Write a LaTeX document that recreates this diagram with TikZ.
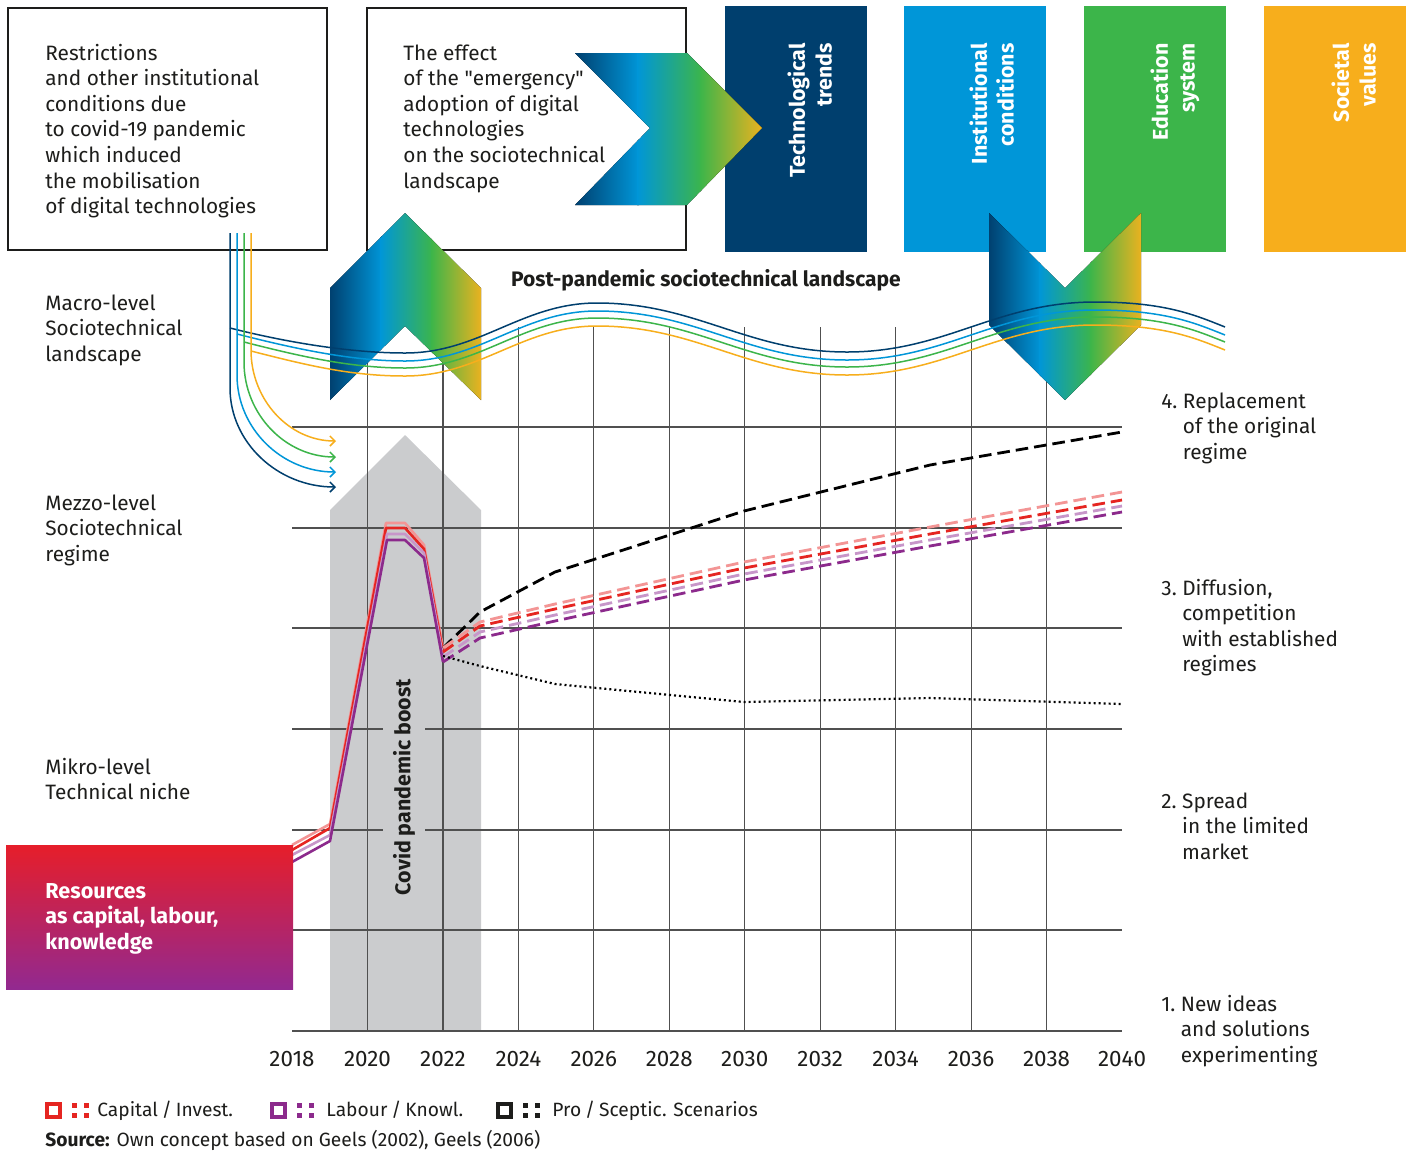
\documentclass[tikz,border=0pt]{standalone}
\usepackage{fontspec}
\setmainfont{Fira Sans}
\newfontfamily\plainq{Fira Sans}[Ligatures=TeXOff]
\usetikzlibrary{arrows.meta}
\definecolor{navyc}{HTML}{003F6E}
\definecolor{bluec}{HTML}{0096D8}
\definecolor{greenc}{HTML}{3CB54A}
\definecolor{orangec}{HTML}{F7AE1C}
\definecolor{gorange}{HTML}{EDB21F}
\definecolor{txt}{HTML}{1D1D1B}
\definecolor{boostgray}{HTML}{CBCCCE}
\definecolor{gridc}{HTML}{505050}
\definecolor{redc}{HTML}{E52521}
\definecolor{lredc}{HTML}{F39595}
\definecolor{purc}{HTML}{8C2A8C}
\definecolor{lpurc}{HTML}{C796C9}
\definecolor{restop}{HTML}{E61E2A}
\definecolor{resbot}{HTML}{922990}
\tikzset{
  txtnode/.style={anchor=base west, align=left, inner sep=0pt, text=txt},
  coltext/.style={rotate=90, anchor=north east, align=right, inner sep=0pt, text=white, font=\fontsize{10.7}{13.4}\selectfont\bfseries},
  infobox/.style={draw=txt, line width=1.2pt, fill=white, minimum width=159.5pt, minimum height=121pt, inner sep=0pt},
  legtext/.style={txtnode, font=\fontsize{9.6}{12}\selectfont},
  wavel/.style={line width=0.75pt},
  gridl/.style={draw=gridc, line width=0.6pt},
  solidl/.style={line width=1.3pt, line join=round},
  dashl/.style={line width=1.4pt, dash pattern=on 6.3pt off 3pt},
  dotl/.style={line width=1.1pt, dash pattern=on 1pt off 1.5pt},
}
\newcommand\legicon[2]{%
  \draw[#2, line width=2pt] (#1+2,1104) rectangle (#1+15,1117);
  \foreach \dx in {27,39} \foreach \dy in {1103,1113}
    \fill[#2] (#1+\dx,\dy) rectangle +(4.5,4.5);
}
\newcommand\myslash{\hspace{2pt}/\hspace{2pt}}
\begin{document}
\begin{tikzpicture}[x=0.5pt, y=-0.5pt, font=\fontsize{10.4}{12.8}\selectfont]
\useasboundingbox (0,0) rectangle (1413,1153);
\fill[white] (0,0) rectangle (1413,1153);

% columns
\fill[navyc] (725,6) rectangle (867,252);
\fill[bluec] (904,6) rectangle (1046,252);
\fill[greenc] (1084,6) rectangle (1226,252);
\fill[orangec] (1264,6) rectangle (1406,252);
\node[coltext] (ctech) at (787,43) {Technological\\trends};
\node[coltext] (cinst) at (969,43) {Institutional\\conditions};
\node[coltext] (cedu) at (1150,43) {Education\\system};
\node[coltext] (csoc) at (1331,43) {Societal\\values};

% info boxes
\node[infobox] (box1) at (167.5,129) {};
\node[infobox] (box2) at (526.5,129) {};
\node[txtnode] (t1) at (45,213.6) {Restrictions\\and other institutional\\conditions due\\to covid-19 pandemic\\which induced\\the mobilisation\\of digital technologies};
\node[txtnode] (t2) at (403,188) {The effect\\of the {\plainq"}emergency{\plainq"}\\adoption of digital\\technologies\\on the sociotechnical\\landscape};

% boost arrow
\fill[boostgray] (330,1031) -- (330,510) -- (405,435) -- (481,510) -- (481,1031) -- cycle;

% grid
\foreach \i in {1,...,10} \draw[gridl] ({292+75.4545*\i},327) -- ({292+75.4545*\i},1031);
\foreach \y in {427,528,628,729,830,930,1031} \draw[gridl] (292,\y) -- (1122,\y);
\foreach \i in {0,...,11} {
  \pgfmathtruncatemacro\yr{2018+2*\i}
  \node[anchor=base, inner sep=0pt, text=txt, font=\fontsize{11.2}{13}\selectfont] (yr\yr) at ({292+75.4545*\i},1066) {\yr};
}

% chevrons
\begin{scope}
\clip (575,53) -- (687,53) -- (762,128) -- (687,205) -- (575,205) -- (650,128) -- cycle;
\fill[left color=navyc,right color=bluec] (574,50) rectangle (639,210);
\fill[left color=bluec,right color=greenc] (637,50) rectangle (702,210);
\fill[left color=greenc,right color=gorange] (700,50) rectangle (763,210);
\end{scope}
\begin{scope}
\clip (330,400) -- (330,288) -- (405,213) -- (481,288) -- (481,400) -- (405,326) -- cycle;
\fill[left color=navyc,right color=bluec] (329,210) rectangle (382,402);
\fill[left color=bluec,right color=greenc] (380,210) rectangle (433,402);
\fill[left color=greenc,right color=gorange] (431,210) rectangle (482,402);
\end{scope}
\begin{scope}
\clip (989,213) -- (989,325) -- (1065,400) -- (1141,325) -- (1141,213) -- (1065,288) -- cycle;
\fill[left color=navyc,right color=bluec] (988,210) rectangle (1041,402);
\fill[left color=bluec,right color=greenc] (1039,210) rectangle (1092,402);
\fill[left color=greenc,right color=gorange] (1090,210) rectangle (1142,402);
\end{scope}

\node[anchor=base, inner sep=0pt, text=txt, font=\fontsize{10.5}{13}\selectfont\bfseries] (title) at (706,286) {Post-pandemic sociotechnical landscape};

% waves
\foreach \c/\xs/\ys/\o in {navyc/230/328/0, bluec/237/334/8, greenc/244/342/15, orangec/251/351/23} {
  \draw[wavel, \c] (\xs,\ys) .. controls (\xs+55,\ys+14) and (350,353+\o) .. (405,353+\o)
    .. controls (480,353+\o) and (522,303+\o) .. (597,303+\o)
    .. controls (697,303+\o) and (747,352+\o) .. (847,352+\o)
    .. controls (946,352+\o) and (996,302+\o) .. (1095,302+\o)
    .. controls (1165,302+\o) and (1195,315+\o) .. (1225,327+\o);
}
% arrows from box 1
\foreach \c/\xs/\yc/\ya in {navyc/230/388/487, bluec/237/375/472, greenc/244/362/457, orangec/251/350/441} {
  \coordinate (src\c) at (\xs,233);
  \coordinate (dst\c) at (336,\ya);
  \draw[wavel, \c, -{Straight Barb[length=2.5pt,width=5pt]}] (src\c) -- (\xs,\yc)
     .. controls (\xs,{\yc+0.55*(\ya-\yc)}) and ({336-0.55*(336-\xs)},\ya) .. (dst\c);
}

% data lines
\draw[solidl, lredc] (292,845) -- (330,824) -- (386,523) -- (405,523) -- (424,545) -- (443,648);
\draw[solidl, redc] (292,850) -- (330,828) -- (386,528) -- (405,528) -- (424,549) -- (443,652);
\draw[solidl, lpurc] (292,855) -- (330,835) -- (387,534) -- (405,534) -- (424,553) -- (443,657);
\draw[solidl, purc] (292,862) -- (330,841) -- (387,540) -- (405,540) -- (424,558) -- (443,662);
\draw[dashl, black] (443,648) -- (480,612) -- (555,572) -- (744,511) -- (930,465) -- (1122,432);
\draw[dashl, lredc] (443,648) -- (480,622) -- (555,604) -- (744,562) -- (930,527) -- (1122,492);
\draw[dashl, redc] (443,652) -- (480,626) -- (555,609) -- (744,568) -- (930,534) -- (1122,500);
\draw[dashl, lpurc] (443,657) -- (480,632) -- (555,615) -- (744,574) -- (930,540) -- (1122,506);
\draw[dashl, purc] (443,662) -- (480,638) -- (555,621) -- (744,580) -- (930,546) -- (1122,512);
\draw[dotl, black] (443,656) -- (480,666) -- (555,684) -- (744,702) -- (930,698) -- (1122,704);

\node[rotate=90, fill=boostgray, inner xsep=0pt, inner ysep=5pt, text=txt, font=\fontsize{10.7}{12.8}\selectfont\bfseries] (boost) at (404,787) {Covid pandemic boost};

% resources box
\shade[top color=restop, bottom color=resbot] (6,845) rectangle (293,989);
\node[txtnode, text=white, font=\fontsize{10.8}{12.8}\selectfont\bfseries] (res) at (45,949.2) {Resources\\as capital, labour,\\knowledge};

% level labels
\node[txtnode] (macro) at (45,361.2) {Macro-level\\Sociotechnical\\landscape};
\node[txtnode] (mezzo) at (45,561.2) {Mezzo-level\\Sociotechnical\\regime};
\node[txtnode] (mikro) at (45,799.6) {Mikro-level\\Technical niche};

\node[txtnode] (s4) at (1161,459.2) {4.\ Replacement\\\hphantom{4.\ }of the original\\\hphantom{4.\ }regime};
\node[txtnode] (s3) at (1161,671.8) {3.\ Diffusion,\\\hphantom{3.\ }competition\\\hphantom{3.\ }with established\\\hphantom{3.\ }regimes};
\node[txtnode] (s2) at (1161,859.2) {2.\ Spread\\\hphantom{2.\ }in the limited\\\hphantom{2.\ }market};
\node[txtnode] (s1) at (1161,1062.2) {1.\ New ideas\\\hphantom{1.\ }and solutions\\\hphantom{1.\ }experimenting};

% legend
\legicon{45}{redc}
\legicon{270}{purc}
\legicon{496}{txt}
\node[legtext] (lg1) at (97,1116) {Capital\myslash Invest.};
\node[legtext] (lg2) at (326,1116) {Labour\myslash Knowl.};
\node[legtext] (lg3) at (552,1116) {Pro\myslash Sceptic. Scenarios};
\node[legtext] (src) at (45,1146) {\textbf{Source:} Own concept based on Geels (2002), Geels (2006)};
\end{tikzpicture}
\end{document}
